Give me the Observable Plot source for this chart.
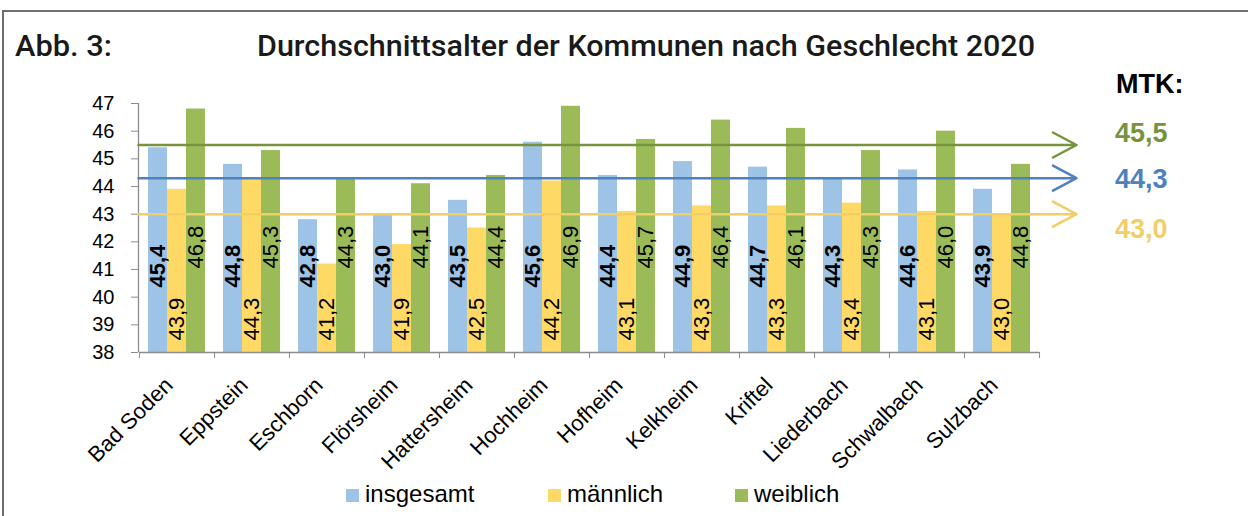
<!DOCTYPE html>
<html><head><meta charset="utf-8">
<script src="https://cdn.jsdelivr.net/npm/d3@7"></script>
<script src="https://cdn.jsdelivr.net/npm/@observablehq/plot@0.6"></script>
<style>
body{margin:0;background:#fff;}
#wrap{position:relative;width:1248px;height:516px;overflow:hidden;background:#fff;font-family:"Liberation Sans",Arial,sans-serif;}
#wrap > svg, #wrap > div{position:absolute;left:0;top:0;}
</style></head><body><div id="wrap"></div>
<script>
// ---- data ----
const cities = ["Bad Soden","Eppstein","Eschborn","Flörsheim","Hattersheim","Hochheim","Hofheim","Kelkheim","Kriftel","Liederbach","Schwalbach","Sulzbach"];
const seriesNames = ["insgesamt","männlich","weiblich"];
const insgesamt = [45.4,44.8,42.8,43.0,43.5,45.6,44.4,44.9,44.7,44.3,44.6,43.9];
const maennlich = [43.9,44.3,41.2,41.9,42.5,44.2,43.1,43.3,43.3,43.4,43.1,43.0];
const weiblich  = [46.8,45.3,44.3,44.1,44.4,46.9,45.7,46.4,46.1,45.3,46.0,44.8];
const mtkValues = [44.3,43.0,45.5]; // MTK: insgesamt, männlich, weiblich
const yTicks = [38,39,40,41,42,43,44,45,46,47];
const titleText = "Durchschnittsalter der Kommunen nach Geschlecht 2020";
const figLabel = "Abb. 3:";
const mtkLabel = "MTK:";

// ---- styles ----
const barColors = ["#9DC3E6","#FFD966","#9BBB59"];
const lineColors = ["#4F81BD","#F2CE66","#77933C"];
const axisGray = "#8c8c8c";
const font = "'Liberation Sans', Arial, sans-serif";

const seriesValues = [insgesamt, maennlich, weiblich];
const rows = cities.flatMap((c, i) => seriesNames.map((s, k) => ({city: c, series: s, value: seriesValues[k][i]})));
const mtkRows = seriesNames.map((s, k) => ({series: s, value: mtkValues[k]}));
const fmt = v => v.toFixed(1).replace(".", ",");

const W = 1248, H = 490, mT = 103, mB = 138, mL = 138, mR = 209;
const step = (W - mL - mR) / cities.length;
const yDomain = [yTicks[0], yTicks[yTicks.length - 1]];
const labelStyle = {
  "insgesamt": {dy: -65, fontWeight: "bold"},
  "männlich": {dy: -12, fontWeight: "normal"},
  "weiblich": {dy: -84, fontWeight: "normal"}
};

const main = Plot.plot({
  width: W, height: H, marginTop: mT, marginBottom: mB, marginLeft: mL, marginRight: mR,
  style: {fontFamily: font, fontSize: "22px", color: "#000", background: "transparent"},
  fx: {domain: cities, padding: 0},
  x: {domain: seriesNames, paddingInner: 0, paddingOuter: 0.4, axis: null},
  y: {domain: yDomain, axis: null},
  color: {domain: seriesNames, range: barColors},
  marks: [
    Plot.barY(rows, {fx: "city", x: "series", y1: yTicks[0], y2: "value", fill: "series"}),
    Plot.ruleY([yTicks[0]], {stroke: axisGray, strokeWidth: 1.3}),
    Plot.axisFx({anchor: "bottom", tickSize: 6, tickFormat: () => "", dx: -step / 2, stroke: axisGray, label: null}),
    Plot.axisFx({anchor: "bottom", tickSize: 6, tickFormat: () => "", dx: step / 2, stroke: axisGray, label: null}),
    ...seriesNames.map(s => Plot.text(rows.filter(r => r.series === s), {
      fx: "city", x: "series", text: d => fmt(d.value), frameAnchor: "bottom",
      rotate: -90, textAnchor: "start", lineAnchor: "middle", fontSize: 22, fill: "#000",
      dy: labelStyle[s].dy, fontWeight: labelStyle[s].fontWeight
    })),
    Plot.text(cities, {fx: d => d, text: d => d, frameAnchor: "bottom", rotate: -45,
      textAnchor: "end", lineAnchor: "top", dx: -14, dy: 23, fontSize: 22, fill: "#000"})
  ]
});

const overlay = Plot.plot({
  width: W, height: H, marginTop: mT, marginBottom: mB, marginLeft: mL, marginRight: 172,
  style: {fontFamily: font, fontSize: "20px", color: "#000", background: "transparent"},
  x: {domain: [0, 1], axis: null},
  y: {domain: yDomain, axis: null},
  color: {domain: seriesNames, range: lineColors},
  marks: [
    Plot.ruleX([0], {stroke: axisGray, strokeWidth: 1.3}),
    Plot.axisY({ticks: yTicks, tickSize: 7, tickPadding: 17, fontSize: 20, stroke: axisGray, fill: "#000", label: null}),
    Plot.arrow(mtkRows, {x1: () => 0, x2: () => 1, y1: "value", y2: "value", stroke: "series",
      strokeWidth: 2.5, headLength: 16, headAngle: 56})
  ]
});

const wrap = document.getElementById("wrap");
const border = document.createElement("div");
border.style.cssText = "left:2px;top:10px;width:1400px;height:700px;border-left:2px solid #6e6e6e;border-top:2px solid #6e6e6e;";
wrap.appendChild(border);
wrap.appendChild(main);
wrap.appendChild(overlay);

// decorations: title, MTK labels, legend
const deco = d3.create("svg").attr("width", W).attr("height", 516).style("pointer-events", "none");
const tfont = "Roboto, 'DejaVu Sans', sans-serif";
deco.append("text").attr("x", 15).attr("y", 56).attr("font-family", tfont).attr("font-weight", 500)
  .attr("font-size", 29).attr("fill", "#1a1a1a").attr("textLength", 97).attr("lengthAdjust", "spacingAndGlyphs").text(figLabel);
deco.append("text").attr("x", 257).attr("y", 56).attr("font-family", tfont).attr("font-weight", 500)
  .attr("font-size", 29).attr("fill", "#1a1a1a").attr("textLength", 778).attr("lengthAdjust", "spacingAndGlyphs").text(titleText);
deco.append("text").attr("x", 1116).attr("y", 93).attr("font-family", font).attr("font-weight", "bold")
  .attr("font-size", 27).attr("fill", "#000").text(mtkLabel);
const mtkOrder = d3.range(mtkValues.length).sort((a, b) => mtkValues[b] - mtkValues[a]);
const mtkBaselines = [142, 188, 238];
mtkOrder.forEach((k, j) => {
  deco.append("text").attr("x", 1115).attr("y", mtkBaselines[j]).attr("font-family", font).attr("font-weight", "bold")
    .attr("font-size", 27).attr("fill", lineColors[k]).text(fmt(mtkValues[k]));
});
const legendX = [346, 548, 735];
seriesNames.forEach((s, k) => {
  deco.append("rect").attr("x", legendX[k]).attr("y", 489).attr("width", 13).attr("height", 13).attr("fill", barColors[k]);
  deco.append("text").attr("x", legendX[k] + 19).attr("y", 502).attr("font-family", font)
    .attr("font-size", 24).attr("fill", "#000").text(s);
});
wrap.appendChild(deco.node());
</script>
</body></html>
